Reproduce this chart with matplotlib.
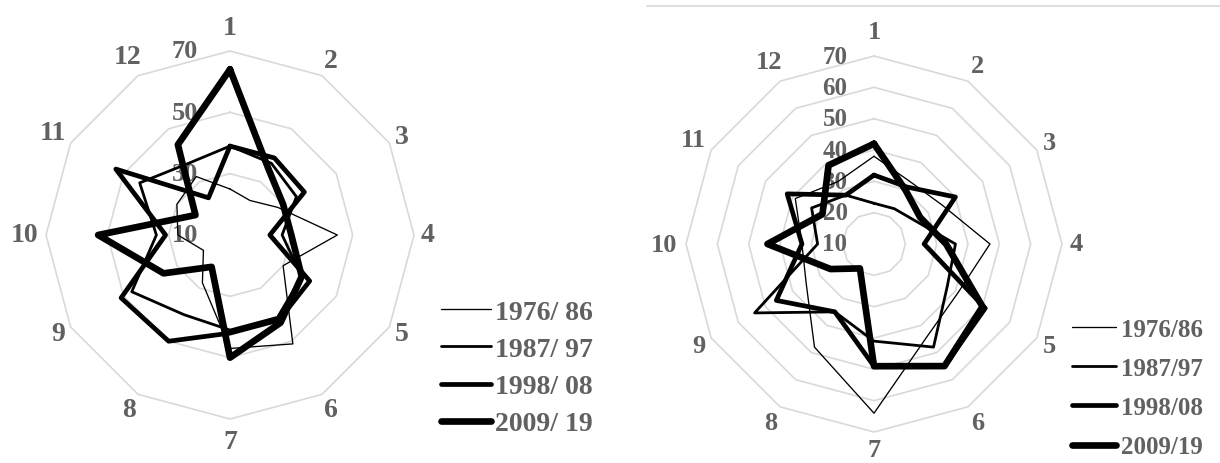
import numpy as np
import matplotlib
matplotlib.use("Agg")
import matplotlib.pyplot as plt
from matplotlib.lines import Line2D

# month categories (1 = January, clockwise)
months = [str(m) for m in range(1, 13)]

# left panel: values per month for each period
left_periods = ['1976/ 86', '1987/ 97', '1998/ 08', '2009/ 19']
left_1976 = [25, 23, 28, 45, 30, 51, 47, 28, 20, 27, 30, 32]
left_1987 = [39, 37, 35, 27, 37, 41, 41, 40, 47, 34, 44, 37]
left_1998 = [39, 39, 38, 23, 40, 42, 42, 50, 51, 31, 53, 24]
left_2009 = [64, 35, 30, 30, 37, 43, 50, 22, 35, 53, 23, 44]
left_ticks = [10, 30, 50, 70]

# right panel
right_periods = ['1976/86', '1987/97', '1998/08', '2009/19']
right_1976 = [38, 33, 35, 47, 41, 44, 64, 48, 35, 33, 39, 33]
right_1987 = [23, 23, 25, 36, 37, 48, 41, 35, 54, 28, 33, 28]
right_1998 = [32, 31, 40, 26, 51, 55, 49, 35, 46, 33, 42, 28]
right_2009 = [42, 30, 27, 33, 50, 55, 49, 19, 26, 44, 29, 39]
right_ticks = [10, 20, 30, 40, 50, 60, 70]

widths = [0.95, 2.0, 3.4, 4.8]
grey_text = '#616161'
grid_col = '#d9d9d9'
serif = 'Liberation Serif'

W, H = 1220, 464
fig = plt.figure(figsize=(W / 100, H / 100), dpi=100)

theta = np.deg2rad(np.arange(12) * 30)
theta_c = np.append(theta, theta[0])


def radar(cx, cy, rad, series, ticks, labels, cat_size, tick_size, tick_dx, bottom_frac):
    ax = fig.add_axes([(cx - rad) / W, (H - cy - rad) / H, 2 * rad / W, 2 * rad / H],
                      projection='polar')
    ax.set_theta_zero_location('N')
    ax.set_theta_direction(-1)
    ax.set_ylim(ticks[0], ticks[-1])
    ax.grid(False)
    ax.spines['polar'].set_visible(False)
    ax.set_xticks([])
    ax.set_yticks([])
    ax.patch.set_alpha(0)

    for lev in ticks[1:]:
        ax.plot(theta_c, [lev] * 13, color=grid_col, lw=1.2, clip_on=False, zorder=1)
    for lev in ticks:
        ax.annotate(str(lev), xy=(0, lev), xytext=(tick_dx, 0), textcoords='offset pixels',
                    ha='center', va='center', fontsize=tick_size, fontweight='bold',
                    family=serif, color=grey_text, zorder=2)

    lines = []
    for vals, lw, lab in zip(series, widths, labels):
        ln, = ax.plot(theta_c, vals + vals[:1], color='black', lw=lw, label=lab,
                      solid_joinstyle='round', solid_capstyle='round', zorder=3)
        lines.append(ln)

    # month labels outside the outer ring
    span = ticks[-1] - ticks[0]
    for t, m in zip(theta, months):
        s, c = np.sin(t), np.cos(t)
        frac = 1.075 + 0.055 * abs(c) ** 6 + 0.04 * (len(m) - 1) * abs(s)
        if m == '7':
            frac = bottom_frac
        ax.text(t, ticks[0] + span * frac, m, ha='center', va='center',
                fontsize=cat_size, fontweight='bold', family=serif, color=grey_text,
                clip_on=False)
    return ax, lines


axl, ll = radar(230, 236, 184, [left_1976, left_1987, left_1998, left_2009],
                left_ticks, left_periods, 20, 19, -45, 1.12)
axr, lr = radar(874, 245, 188, [right_1976, right_1987, right_1998, right_2009],
                right_ticks, right_periods, 19, 18, -39, 1.095)

leg_font = {'family': serif, 'weight': 'bold', 'size': 20}
fig.legend(handles=ll, loc='center left', bbox_to_anchor=(441 / W, 1 - 369 / H),
           frameon=False, prop=leg_font, labelcolor=grey_text, handlelength=1.8,
           handletextpad=0.15, labelspacing=0.42, borderpad=0, borderaxespad=0)
leg_font_r = {'family': serif, 'weight': 'bold', 'size': 18}
fig.legend(handles=lr, loc='center left', bbox_to_anchor=(1072 / W, 1 - 389 / H),
           frameon=False, prop=leg_font_r, labelcolor=grey_text, handlelength=1.75,
           handletextpad=0.2, labelspacing=0.65, borderpad=0, borderaxespad=0)

# thin frame line across the top of the right panel
fig.add_artist(Line2D([647 / W, 1.0], [1 - 7 / H, 1 - 7 / H], transform=fig.transFigure,
                      color=grid_col, lw=1.2))

fig.savefig('out.png', dpi=100)
